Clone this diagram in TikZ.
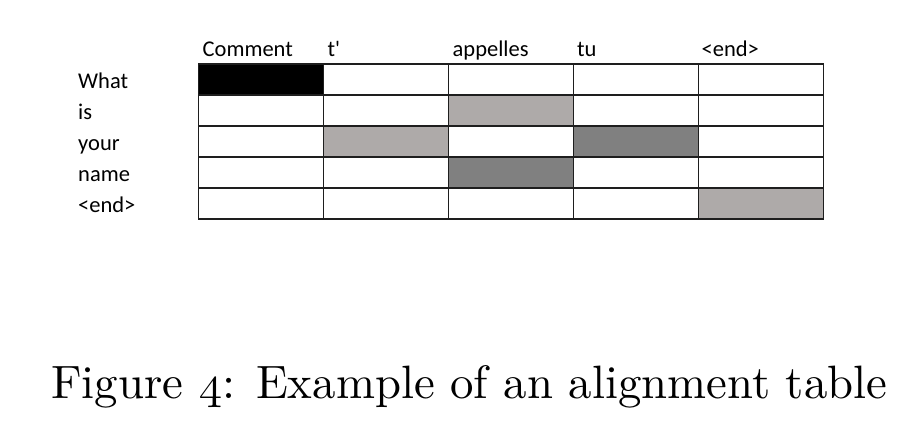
\documentclass[tikz,border=0pt]{standalone}
\usepackage{fontspec}
\setsansfont{Carlito}
\usepackage{graphicx}
\definecolor{lightg}{RGB}{174,170,169}
\definecolor{darkg}{RGB}{128,128,128}
\definecolor{gridc}{RGB}{30,30,30}
\begin{document}
\begin{tikzpicture}[x=1pt,y=-1pt,
  lbl/.style={font=\sffamily\fontsize{22.5}{26}\selectfont, anchor=base west, inner sep=0pt},
  cell/.style={draw=gridc, line width=1.8pt, minimum width=125pt, minimum height=31pt, inner sep=0pt, anchor=north west, fill=white},
  captext/.style={anchor=base west, inner sep=0pt}]
\useasboundingbox (0,0) rectangle (919,445);
\fill[white] (0,0) rectangle (919,445);
% cells
\foreach \r in {0,...,4}{
  \foreach \c in {0,...,4}{
    \node[cell] (c\r\c) at ({197.5+125*\c},{62.7+31*\r}) {};
  }
}
\node[cell, fill=black] (k00) at (c00.north west) {};
\node[cell, fill=lightg] (k12) at (c12.north west) {};
\node[cell, fill=lightg] (k21) at (c21.north west) {};
\node[cell, fill=lightg] (k44) at (c44.north west) {};
\node[cell, fill=darkg] (k23) at (c23.north west) {};
\node[cell, fill=darkg] (k32) at (c32.north west) {};
% column labels
\node[lbl] (h0) at (202.5,56.7) {Comment};
\node[lbl] (h1) at (327.5,56.7) {t\textquotesingle};
\node[lbl] (h2) at (452.5,56.7) {appelles};
\node[lbl] (h3) at (577,56.7) {tu};
\node[lbl] (h4) at (701.5,56.7) {<end>};
% row labels
\node[lbl] (r0) at (78,88.3) {What};
\node[lbl] (r1) at (78,119.3) {is};
\node[lbl] (r2) at (78,150.3) {your};
\node[lbl] (r3) at (78,181.3) {name};
\node[lbl] (r4) at (78,212.3) {<end>};
% caption
\node[captext] (caption) at (51,398.3) {\resizebox{836pt}{!}{Figure {\usefont{OML}{cmm}{m}{it}4}: Example of an alignment table}};
\end{tikzpicture}
\end{document}
